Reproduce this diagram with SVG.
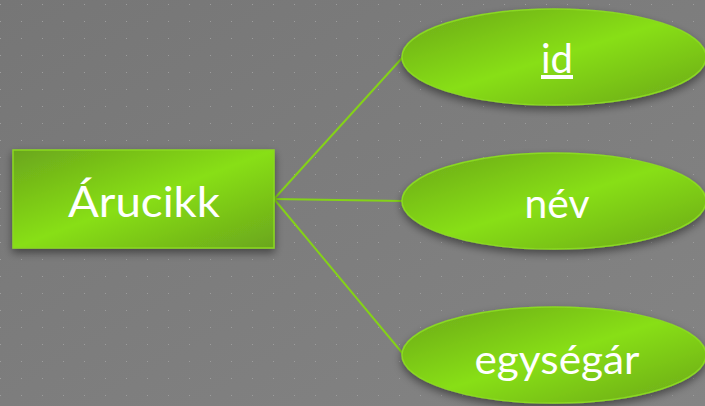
<svg xmlns="http://www.w3.org/2000/svg" width="705" height="406" viewBox="0 0 705 406">
  <defs>
    <linearGradient id="bg" x1="0" y1="0" x2="1" y2="1">
      <stop offset="0" stop-color="#767676"/>
      <stop offset="1" stop-color="#848484"/>
    </linearGradient>
    <pattern id="dots" x="0" y="0" width="21" height="17" patternUnits="userSpaceOnUse" patternTransform="translate(1,-12)">
      <rect x="20" y="16" width="2" height="3" fill="#9c9c9c"/>
    </pattern>
    <linearGradient id="green" x1="0" y1="0" x2="1" y2="1">
      <stop offset="0" stop-color="#6aa61c"/>
      <stop offset="0.5" stop-color="#88df14"/>
      <stop offset="1" stop-color="#6aa61c"/>
    </linearGradient>
    <filter id="shadow" x="-20%" y="-20%" width="140%" height="160%">
      <feDropShadow dx="0" dy="4" stdDeviation="4" flood-color="#000" flood-opacity="0.45"/>
    </filter>
    <style>
      .shape { fill: url(#green); stroke: #8ad920; stroke-width: 1.5; filter: url(#shadow); }
      .label { fill: #ffffff; font-family: "Lato", "Open Sans", "DejaVu Sans", sans-serif; text-anchor: middle; }
      .edge { stroke: #84d218; stroke-width: 2; fill: none; }
    </style>
  </defs>

  <!-- background with dot grid -->
  <rect width="705" height="406" fill="url(#bg)"/>
  <rect width="705" height="406" fill="url(#dots)"/>

  <g id="connectors">
    <line class="edge" x1="274" y1="199" x2="403" y2="57"/>
    <line class="edge" x1="274" y1="199" x2="403" y2="201"/>
    <line class="edge" x1="274" y1="199" x2="404" y2="355"/>
  </g>

  <g id="node-arucikk">
    <rect class="shape" x="13" y="150" width="261" height="98"/>
    <text class="label" x="144" y="217" font-size="42" textLength="152" lengthAdjust="spacingAndGlyphs">Árucikk</text>
  </g>

  <g id="node-id">
    <ellipse class="shape" cx="554" cy="57" rx="152" ry="48"/>
    <text class="label" x="557" y="73" font-size="40" text-decoration="underline">id</text>
  </g>

  <g id="node-nev">
    <ellipse class="shape" cx="554" cy="201" rx="152" ry="48"/>
    <text class="label" x="557" y="218" font-size="40" textLength="65" lengthAdjust="spacingAndGlyphs">név</text>
  </g>

  <g id="node-egysegar">
    <ellipse class="shape" cx="554" cy="355" rx="152" ry="48"/>
    <text class="label" x="557" y="374" font-size="40" textLength="165" lengthAdjust="spacingAndGlyphs">egységár</text>
  </g>
</svg>
